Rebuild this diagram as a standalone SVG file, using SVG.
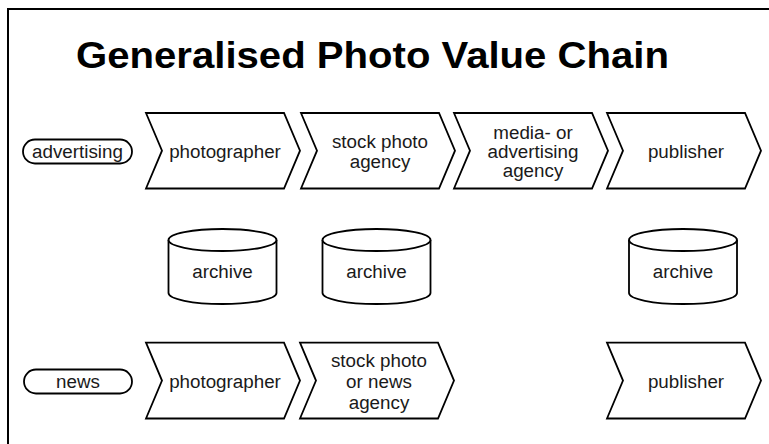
<svg xmlns="http://www.w3.org/2000/svg" width="769" height="444" viewBox="0 0 769 444">
<style>
.s{fill:#fff;stroke:#000;stroke-width:1.8;stroke-linejoin:miter}
.t{font-family:"Liberation Sans",Arial,sans-serif;font-size:18.8px;fill:#1a1a1a;text-anchor:middle}
.h{font-family:"Liberation Sans",Arial,sans-serif;font-size:36px;font-weight:bold;fill:#000;text-anchor:middle}
</style>
<rect width="769" height="444" fill="#fff"/>
<rect x="8" y="9" width="800" height="500" fill="none" stroke="#000" stroke-width="2"/>
<text class="h" x="372.5" y="68" textLength="593" lengthAdjust="spacingAndGlyphs">Generalised Photo Value Chain</text>
<g id="connectors"></g>
<g id="advertising">
<rect class="s" x="23" y="139.5" width="109" height="24" rx="12"/>
<text class="t" x="77.5" y="157.5">advertising</text>
</g>
<g id="photographer1">
<path class="s" d="M146,113 L284,113 L300,150.7 L284,188.5 L146,188.5 L162,150.7 Z"/>
<text class="t" x="225" y="157.5">photographer</text>
</g>
<g id="stockagency1">
<path class="s" d="M301,113 L439,113 L455,150.7 L439,188.5 L301,188.5 L317,150.7 Z"/>
<text class="t" x="380" y="147.5">stock photo</text>
<text class="t" x="380" y="167.5">agency</text>
</g>
<g id="mediaagency">
<path class="s" d="M454,113 L592,113 L608,150.7 L592,188.5 L454,188.5 L470,150.7 Z"/>
<text class="t" x="533" y="138.5">media- or</text>
<text class="t" x="533" y="157.5">advertising</text>
<text class="t" x="533" y="176.5">agency</text>
</g>
<g id="publisher1">
<path class="s" d="M607,113 L745,113 L761,150.7 L745,188.5 L607,188.5 L623,150.7 Z"/>
<text class="t" x="686" y="157.5">publisher</text>
</g>
<g id="archive1">
<path class="s" d="M168.5,240 L168.5,293 A54,11 0 0 0 276.5,293 L276.5,240 A54,11 0 0 0 168.5,240 Z"/>
<path class="s" fill="none" d="M168.5,240 A54,11 0 0 0 276.5,240"/>
<text class="t" x="222.5" y="278">archive</text>
</g>
<g id="archive2">
<path class="s" d="M322.5,240 L322.5,293 A54,11 0 0 0 430.5,293 L430.5,240 A54,11 0 0 0 322.5,240 Z"/>
<path class="s" fill="none" d="M322.5,240 A54,11 0 0 0 430.5,240"/>
<text class="t" x="376.5" y="278">archive</text>
</g>
<g id="archive3">
<path class="s" d="M629,240 L629,293 A54,11 0 0 0 737,293 L737,240 A54,11 0 0 0 629,240 Z"/>
<path class="s" fill="none" d="M629,240 A54,11 0 0 0 737,240"/>
<text class="t" x="683" y="278">archive</text>
</g>
<g id="news">
<rect class="s" x="24" y="369.5" width="108" height="24" rx="12"/>
<text class="t" x="78" y="387.5">news</text>
</g>
<g id="photographer2">
<path class="s" d="M146,342.7 L284,342.7 L300,380.6 L284,418.5 L146,418.5 L162,380.6 Z"/>
<text class="t" x="225" y="387.5">photographer</text>
</g>
<g id="stockagency2">
<path class="s" d="M300,342.7 L438,342.7 L454,380.6 L438,418.5 L300,418.5 L316,380.6 Z"/>
<text class="t" x="379" y="366.5">stock photo</text>
<text class="t" x="379" y="387.5">or news</text>
<text class="t" x="379" y="408.5">agency</text>
</g>
<g id="publisher2">
<path class="s" d="M607,342.7 L745,342.7 L761,380.6 L745,418.5 L607,418.5 L623,380.6 Z"/>
<text class="t" x="686" y="387.5">publisher</text>
</g>
</svg>
